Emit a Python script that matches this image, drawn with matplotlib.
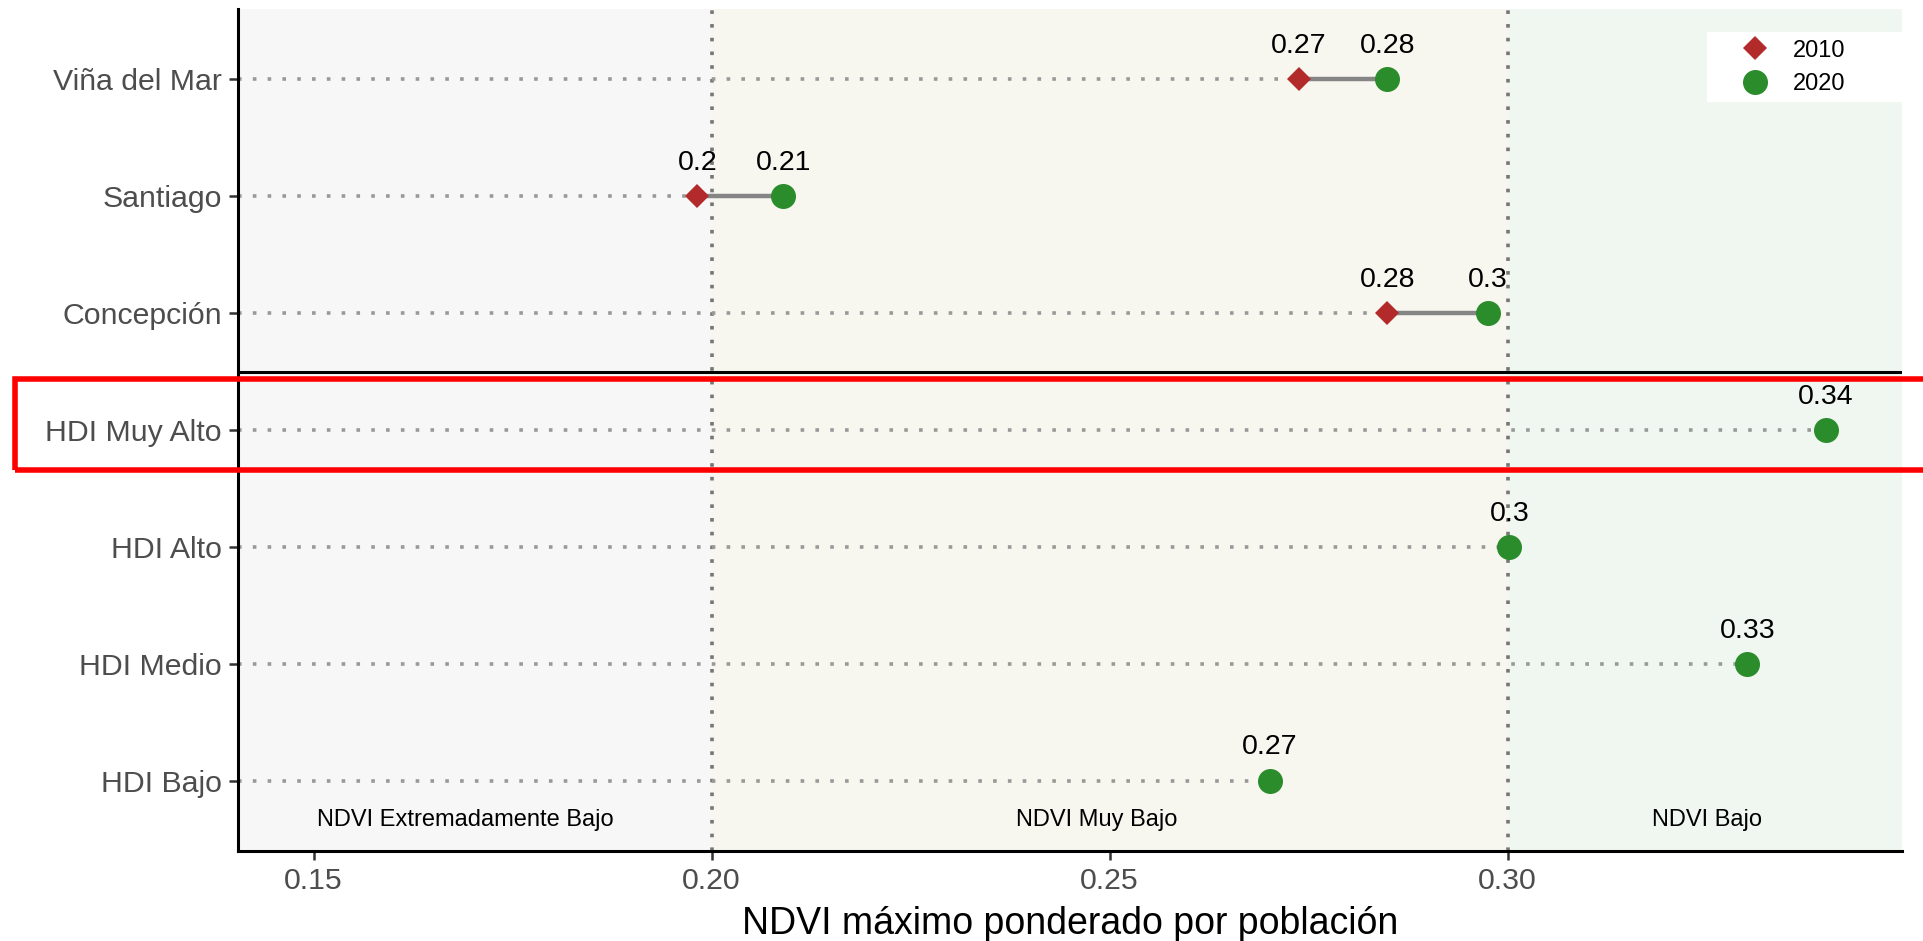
import matplotlib
matplotlib.use('Agg')
import matplotlib.pyplot as plt
from matplotlib.patches import Rectangle

plt.rcParams['font.family'] = ['Liberation Sans', 'DejaVu Sans']

# data (top row first)
rows = ['Viña del Mar', 'Santiago', 'Concepción',
        'HDI Muy Alto', 'HDI Alto', 'HDI Medio', 'HDI Bajo']
ndvi_2010 = [0.2738, 0.1982, 0.2849, None, None, None, None]
ndvi_2020 = [0.2849, 0.2090, 0.2975, 0.3400, 0.3002, 0.3301, 0.2701]

band_edges = [0.20, 0.30]
band_names = ['NDVI Extremadamente Bajo', 'NDVI Muy Bajo', 'NDVI Bajo']
band_label_x = [0.1691, 0.2484, 0.3250]
band_colors = ['#f7f7f7', '#f7f6ef', '#f0f6f0']

xticks = [0.15, 0.20, 0.25, 0.30]

red = '#b22a2a'
green = '#2a8c2a'

fig = plt.figure(figsize=(19.24, 9.41), dpi=100)
ax = fig.add_axes([238 / 1924, 1 - 851 / 941, 1663.7 / 1924, 842 / 941])

xmin, xmax = 0.1405, 0.3495
ax.set_xlim(xmin, xmax)
ax.set_ylim(0.4, len(rows) + 0.6)

# background bands
lims = [xmin] + band_edges + [xmax]
for i in range(3):
    ax.axvspan(lims[i], lims[i + 1], color=band_colors[i], lw=0, zorder=0)

for e in band_edges:
    ax.axvline(e, color='#767676', lw=2.6, ls=(0, (1, 2.8)), zorder=1)

ypos = list(range(len(rows), 0, -1))

for y, a, b in zip(ypos, ndvi_2010, ndvi_2020):
    left = b if a is None else min(a, b)
    ax.hlines(y, xmin, left, color='#999999', lw=2.6, linestyles=[(0, (1, 3.1))], zorder=2)
    if a is not None:
        ax.plot([a, b], [y, y], color='#858585', lw=3.2, zorder=3, solid_capstyle='butt')

y10 = [y for y, a in zip(ypos, ndvi_2010) if a is not None]
x10 = [a for a in ndvi_2010 if a is not None]
ax.plot(x10, y10, 'D', color=red, ms=11.8, mew=0, ls='none', zorder=4, label='2010')
ax.plot(ndvi_2020, ypos, 'o', color=green, ms=18, mew=0, ls='none', zorder=5, label='2020')

for y, a, b in zip(ypos, ndvi_2010, ndvi_2020):
    for v in (a, b):
        if v is None:
            continue
        ax.annotate(f"{round(v, 2):g}", (v, y), xytext=(0, 24), textcoords='offset points',
                    ha='center', va='center', fontsize=20.5, color='black', zorder=6)

# separator between cities and HDI groups
ax.axhline(len(rows) - 2.5, color='black', lw=2.2, zorder=3)

for x, name in zip(band_label_x, band_names):
    ax.text(x, 0.664, name, ha='center', va='center', fontsize=17, color='black', zorder=6)

ax.set_yticks(ypos)
ax.set_yticklabels(rows)
ax.set_xticks(xticks)
ax.set_xticklabels([f"{t:.2f}" for t in xticks])
ax.tick_params(axis='both', labelsize=21.8, labelcolor='#4d4d4d', color='#333333',
               length=6.5, width=1.8, pad=5)
ax.set_xlabel('NDVI máximo ponderado por población', fontsize=27, labelpad=8)

for s in ['top', 'right']:
    ax.spines[s].set_visible(False)
for s in ['left', 'bottom']:
    ax.spines[s].set_linewidth(2.2)
    ax.spines[s].set_color('black')

# legend with a white panel behind it
ax.add_patch(Rectangle((0.8828, 0.8899), 0.1172, 0.0824, transform=ax.transAxes,
                       facecolor='white', edgecolor='none', zorder=7))
leg = ax.legend(loc='center left', bbox_to_anchor=(0.8975, 0.9309), frameon=False,
                fontsize=17, handlelength=1.0, handletextpad=1.1, borderpad=0,
                labelspacing=0.48, numpoints=1)
leg.set_zorder(8)

# red highlight box around the HDI Muy Alto row
fig.add_artist(Rectangle((15 / 1924, 1 - 470 / 941), 1.05, 91 / 941, transform=fig.transFigure,
                         fill=False, edgecolor='red', lw=4.0, clip_on=False))

fig.savefig('out.png', dpi=100)
